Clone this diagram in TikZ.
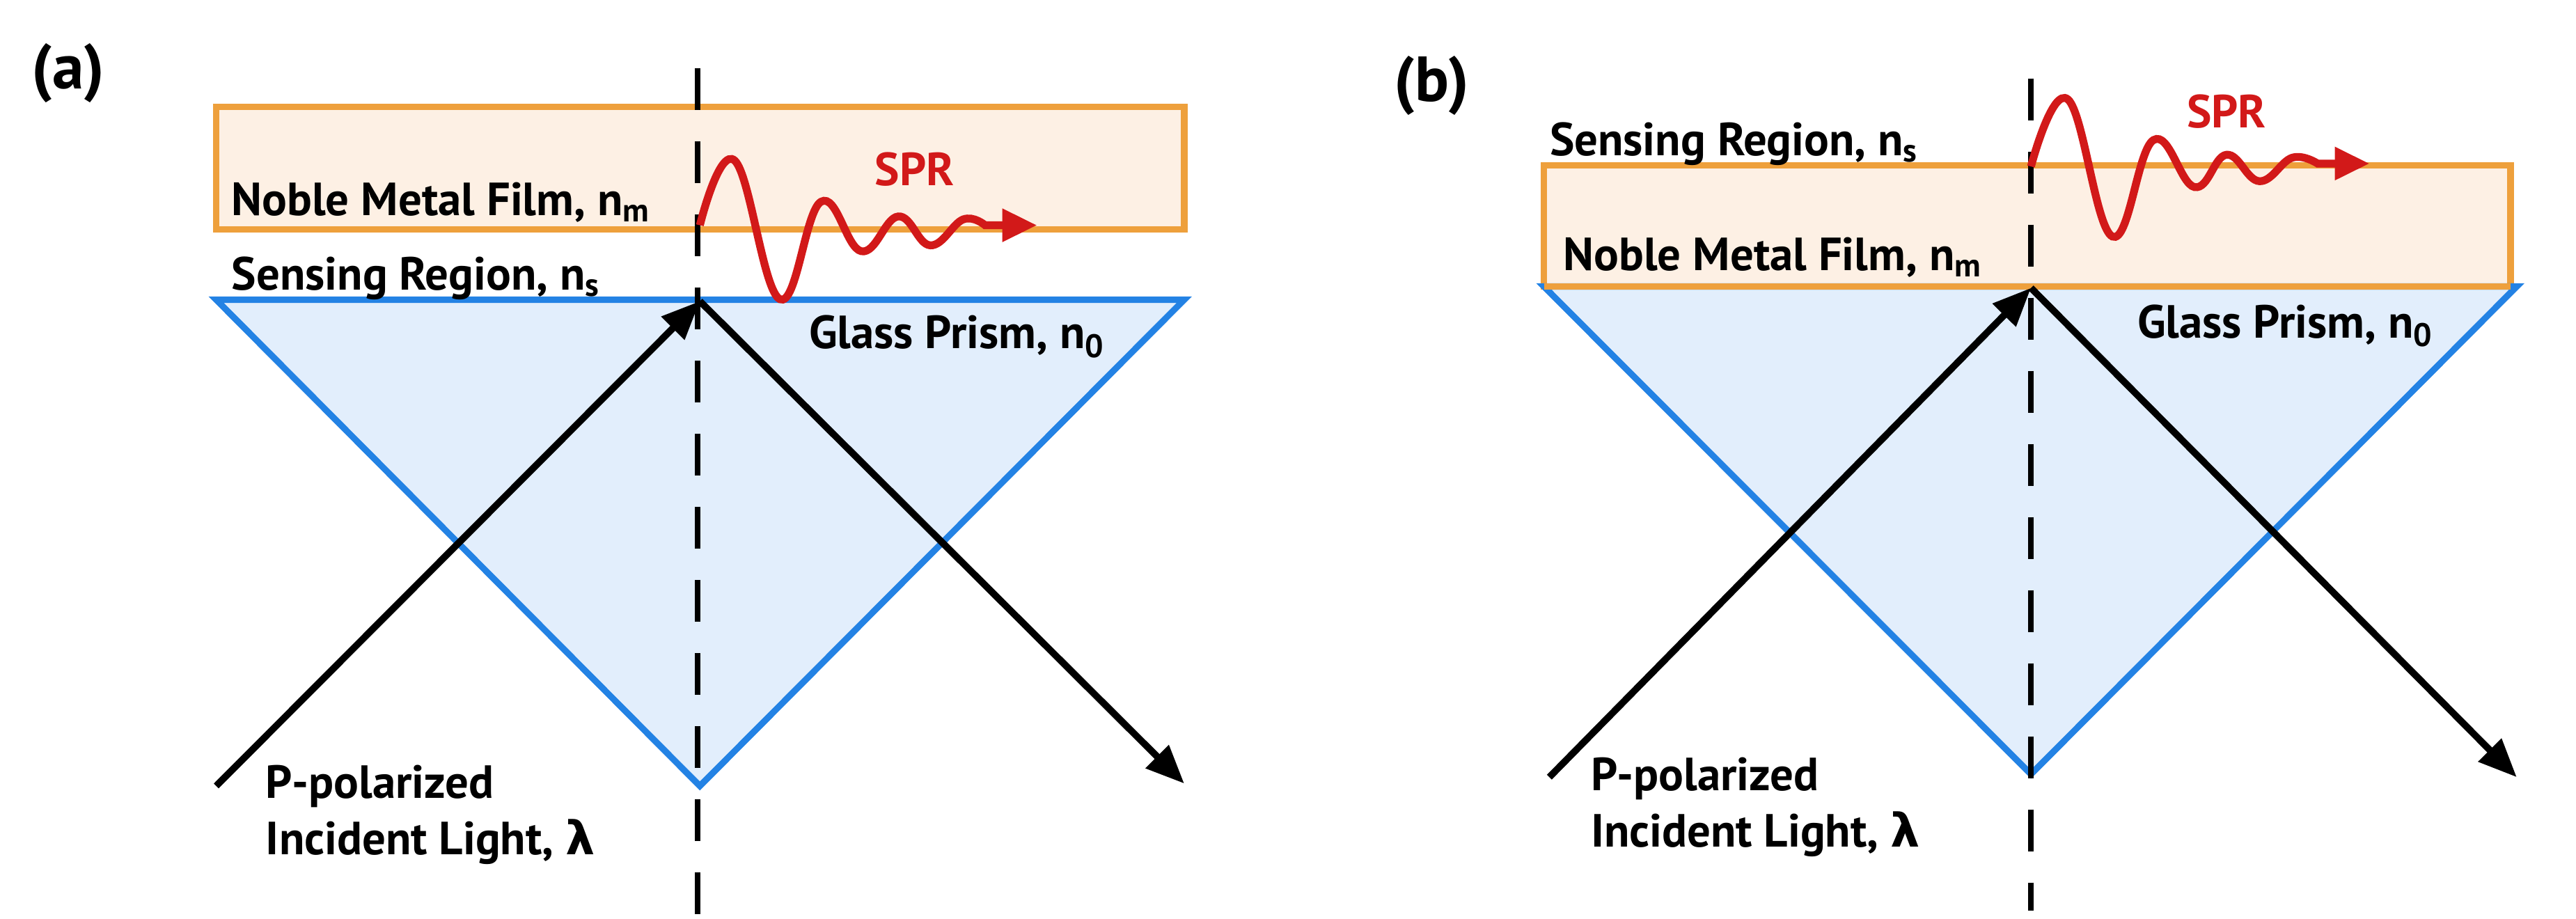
\documentclass[tikz,border=0pt]{standalone}
\usepackage{fontspec}
\setmainfont{PT Sans}
\newfontfamily\lamfont{DejaVu Sans}
\usetikzlibrary{arrows.meta}
\definecolor{orng}{RGB}{238,160,60}
\definecolor{orngf}{RGB}{253,240,228}
\definecolor{blu}{RGB}{35,130,228}
\definecolor{bluf}{RGB}{226,238,252}
\definecolor{rd}{RGB}{210,25,25}
\tikzset{
 film/.style={draw=orng,fill=orngf,line width=2.6pt},
 prism/.style={draw=blu,fill=bluf,line width=2.6pt,line join=miter},
 axis/.style={line width=2.3pt,dash pattern=on 0.6cm off 0.45cm},
 ray/.style={line width=2.8pt,-{Triangle[length=0.55cm,width=0.45cm]}},
 wave/.style={draw=rd,line width=3.2pt,-{Triangle[length=0.5cm,width=0.45cm]}},
 lbl/.style={font=\bfseries\fontsize{19}{22}\selectfont,anchor=base west,inner sep=0},
 spr/.style={font=\bfseries\fontsize{19}{22}\selectfont,text=rd,inner sep=0},
 tag/.style={font=\bfseries\fontsize{26}{30}\selectfont,inner sep=0}
}
\begin{document}
\begin{tikzpicture}
\useasboundingbox (0,0) rectangle (37,-13.2);
% ---------- (a)
\begin{scope}[x=0.00983cm,y=-0.00704cm]
\node[tag] (ta) at (100,150) {(a)};
\draw[film] (316,218) rectangle (1731,469);
\coordinate (aL) at (316,612); \coordinate (aR) at (1731,612);
\coordinate (aA) at (1023,1605); \coordinate (aT) at (1023,615);
\draw[prism] (aL) -- (aR) -- (aA) -- cycle;
\coordinate (aD1) at (1020,140); \coordinate (aD2) at (1020,1875);
\draw[axis] (aD1) -- (aD2);
\coordinate (aS) at (316,1605); \coordinate (aE) at (1731,1600);
\draw[ray] (aS) -- (aT);
\draw[ray] (aT) -- (aE);
\draw[wave] plot[smooth,tension=0.7] coordinates {(1023,460) (1074,328) (1140,611) (1200,412) (1259,513) (1313,442) (1360,501) (1408,448) (1440,460)} -- (1516,460);
\node[lbl] (anm) at (338,440) {Noble Metal Film, n\textsubscript{m}};
\node[lbl] (ans) at (338,592) {Sensing Region, n\textsubscript{s}};
\node[lbl] (ang) at (1182,712) {Glass Prism, n\textsubscript{0}};
\node[spr] (aspr) at (1337,346) {SPR};
\node[lbl] (ap1) at (388,1630) {P-polarized};
\node[lbl] (ap2) at (388,1745) {Incident Light, {\lamfont λ}};
\end{scope}
% ---------- (b)
\begin{scope}[xshift=18.5cm,x=0.00983cm,y=-0.00704cm]
\node[tag] (tb) at (210,175) {(b)};
\draw[film] (374,338) rectangle (1787,585);
\coordinate (bL) at (374,585); \coordinate (bR) at (1796,585);
\coordinate (bA) at (1086,1581); \coordinate (bT) at (1086,588);
\draw[prism] (bL) -- (bR) -- (bA) -- cycle;
\draw[orng,line width=2.6pt] (bL) -- (1787,585);
\coordinate (bD1) at (1086,160); \coordinate (bD2) at (1086,1860);
\draw[axis] (bD1) -- (bD2);
\coordinate (bS) at (382,1587); \coordinate (bE) at (1796,1587);
\draw[ray] (bS) -- (bT);
\draw[ray] (bT) -- (bE);
\draw[wave] plot[smooth,tension=0.7] coordinates {(1086,340) (1140,203) (1205,483) (1265,286) (1325,382) (1372,316) (1420,370) (1468,322) (1505,334)} -- (1581,334);
\node[lbl] (bns) at (382,318) {Sensing Region, n\textsubscript{s}};
\node[lbl] (bnm) at (402,552) {Noble Metal Film, n\textsubscript{m}};
\node[lbl] (bng) at (1241,690) {Glass Prism, n\textsubscript{0}};
\node[spr] (bspr) at (1372,227) {SPR};
\node[lbl] (bp1) at (442,1615) {P-polarized};
\node[lbl] (bp2) at (442,1730) {Incident Light, {\lamfont λ}};
\end{scope}
\end{tikzpicture}
\end{document}
